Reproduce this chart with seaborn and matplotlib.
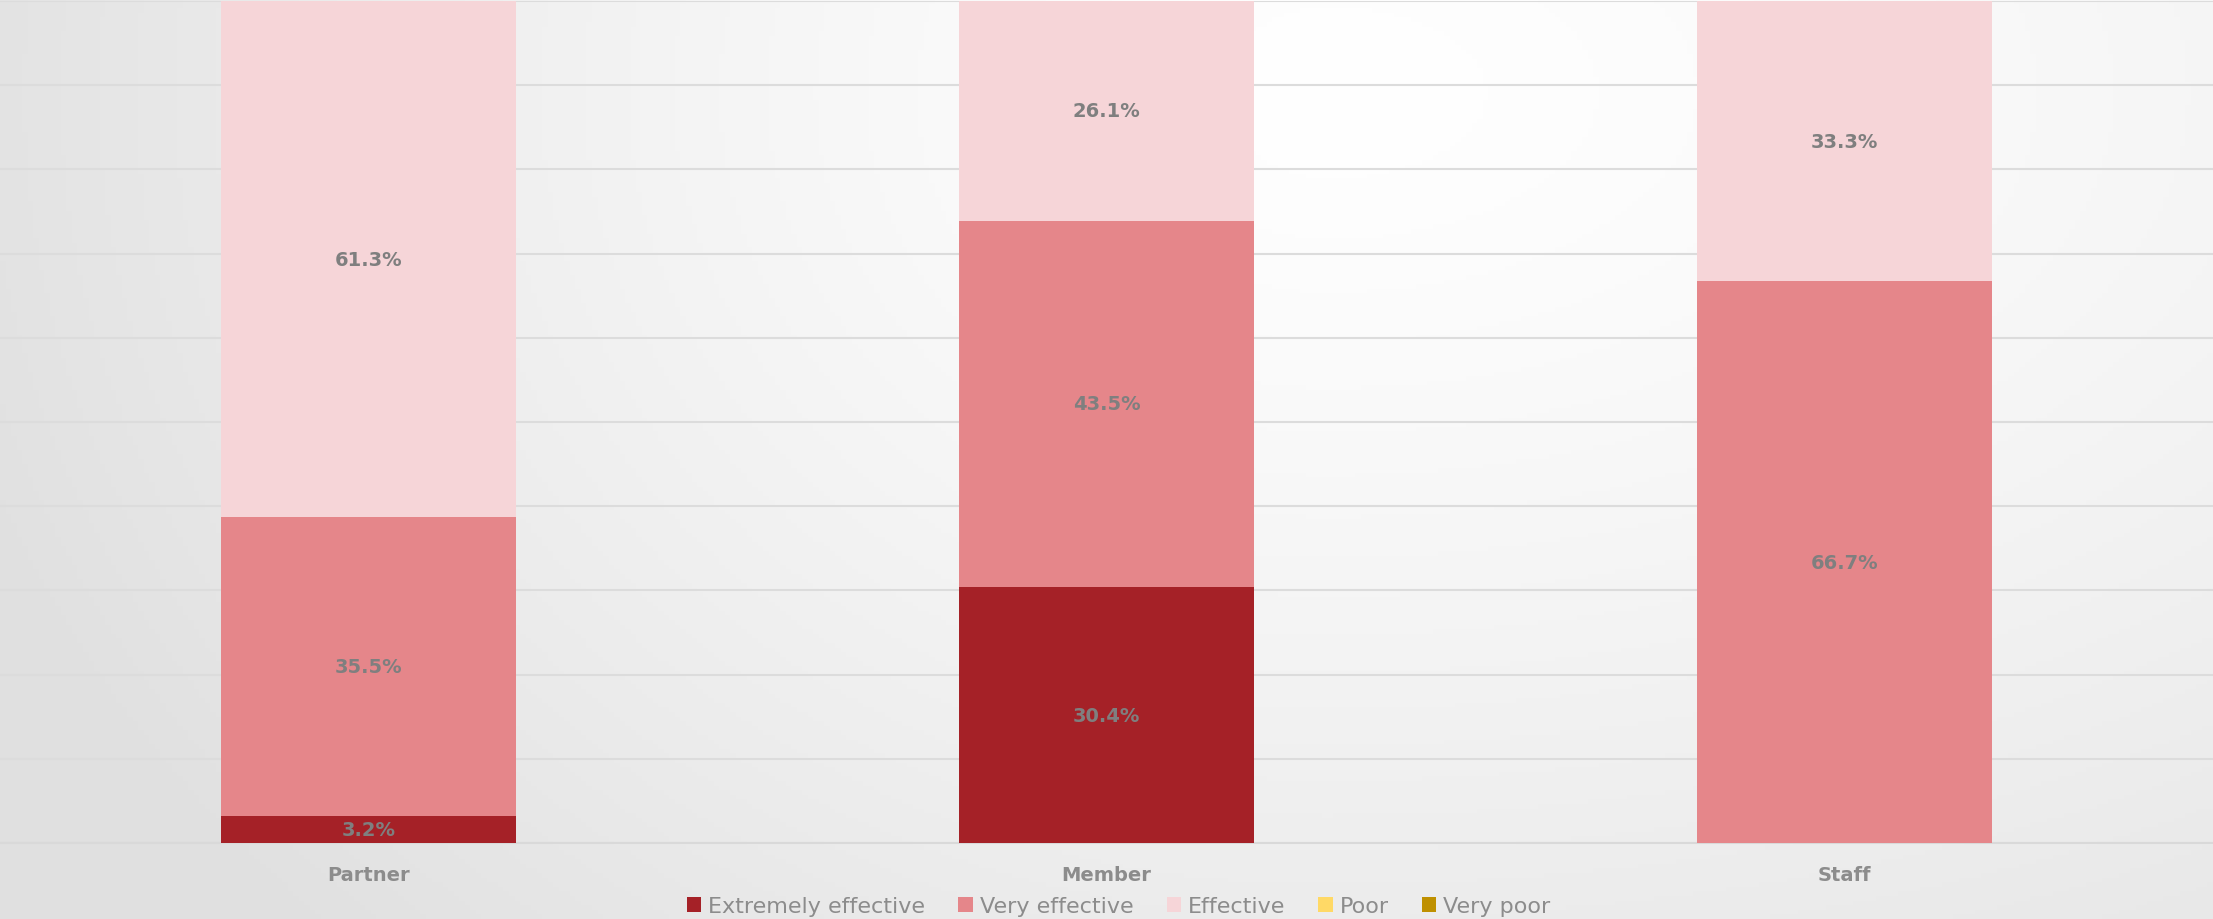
import numpy as np
import pandas as pd
import matplotlib
matplotlib.use("Agg")
import matplotlib.pyplot as plt
from matplotlib.patches import Patch
import seaborn as sns

categories = ["Partner", "Member", "Staff"]
series_names = ["Extremely effective", "Very effective", "Effective", "Poor", "Very poor"]
extremely_effective = [3.2, 30.4, 0.0]
very_effective = [35.5, 43.5, 66.7]
effective = [61.3, 26.1, 33.3]
poor = [0.0, 0.0, 0.0]
very_poor = [0.0, 0.0, 0.0]
colors = ["#A52127", "#E5868A", "#F6D5D8", "#FFD966", "#BF9000"]

series_values = [extremely_effective, very_effective, effective, poor, very_poor]

sns.set_theme(style="white")
plt.rcParams['font.family'] = ['DejaVu Sans']

W, H = 2213, 920
fig = plt.figure(figsize=(W / 100, H / 100), dpi=100)

# background gradient
bg = fig.add_axes([0, 0, 1, 1], zorder=-10)
xs = np.linspace(0, 1, 400)
ys = np.linspace(0, 1, 200)
X, Y = np.meshgrid(xs, ys)
cx, cy = 0.6, 0.1
sx = np.where(X < cx, 0.65, 1.0)
d = np.sqrt(((X - cx) / sx) ** 2 + ((Y - cy) / 1.3) ** 2)
g = 1 - 0.12 * np.clip(d, 0, 1) ** 1.3
img = np.dstack([g, g, g])
bg.imshow(img, aspect="auto", extent=[0, 1, 1, 0])
bg.set_axis_off()

ax = fig.add_axes([0, 1 - 844 / H, 1, (844 - 2) / H])
ax.set_facecolor("none")

# cumulative stacks drawn from top to bottom
cum = np.cumsum(np.array(series_values), axis=0)
for i in range(len(series_names) - 1, -1, -1):
    df = pd.DataFrame({"cat": categories, "val": cum[i]})
    sns.barplot(data=df, x="cat", y="val", color=colors[i], width=0.4,
                saturation=1, ax=ax, linewidth=0, zorder=3)

# labels
for j, cat in enumerate(categories):
    base = 0.0
    for i, s in enumerate(series_values):
        v = s[j]
        if v > 0:
            ax.text(j, base + v / 2, f"{v:.1f}%", ha="center", va="center",
                    fontsize=14, fontweight="bold", color="#7F7F7F", zorder=5)
        base += v

ax.set_ylim(0, 100)
ax.set_xlim(-0.5, 2.5)
ax.set_yticks(np.arange(0, 101, 10))
ax.yaxis.grid(True, color="#DCDCDC", linewidth=1.5, zorder=0)
ax.set_axisbelow(True)
ax.set_yticklabels([])
ax.tick_params(axis="y", length=0)
ax.set_xlabel("")
ax.set_ylabel("")
ax.tick_params(axis="x", length=0, pad=16)
for lbl in ax.get_xticklabels():
    lbl.set_fontweight("bold")
    lbl.set_color("#8C8C8C")
    lbl.set_fontsize(14)
for sp in ["top", "left", "right"]:
    ax.spines[sp].set_visible(False)
ax.spines["bottom"].set_color("#D9D9D9")
ax.spines["bottom"].set_linewidth(1.5)

handles = [Patch(facecolor=c, edgecolor="none", label=n) for c, n in zip(colors, series_names)]
fig.legend(handles=handles, loc="center", bbox_to_anchor=(0.5055, 1 - 907 / H),
           ncol=5, frameon=False, fontsize=16, handlelength=0.65, handleheight=0.65,
           handletextpad=0.3, columnspacing=1.5, labelcolor="#8C8C8C")

fig.savefig("out.png", dpi=100)
